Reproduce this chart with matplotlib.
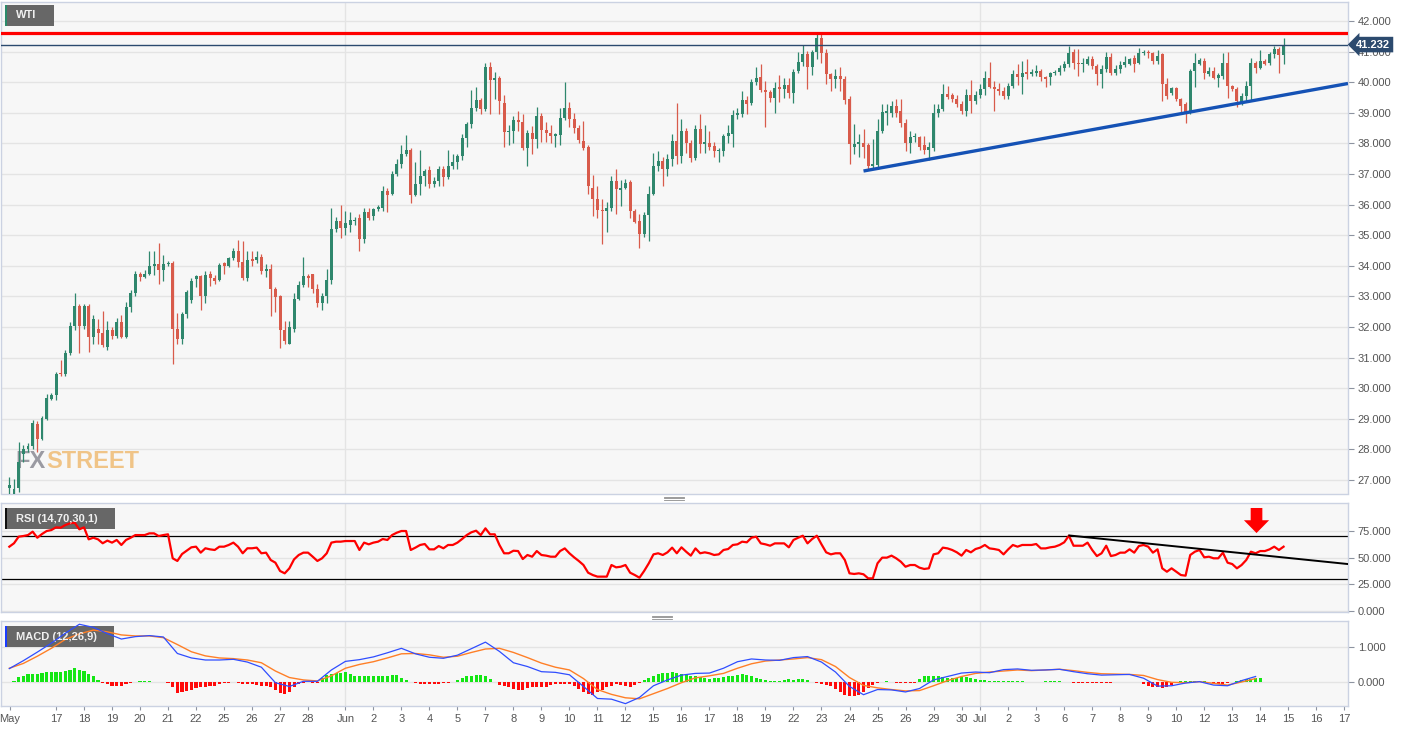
import numpy as np
import matplotlib
matplotlib.use('Agg')
import matplotlib.pyplot as plt
from matplotlib.patches import Rectangle
from matplotlib.lines import Line2D

plt.rcParams['font.family'] = ['Liberation Sans', 'DejaVu Sans']

W, H = 1413, 732

# ---------------- data (4-hour candles, WTI) ----------------
opens = [
    26.75, 26.5, 26.75, 27.85, 28.0, 28.1, 28.84, 28.35, 29.0, 29.66,
    29.79, 30.5, 30.45, 31.16, 32.02, 32.70, 32.02, 32.70, 31.66, 31.95,
    31.82, 31.36, 31.92, 31.72, 32.18, 31.69, 32.67, 33.1, 33.75, 33.65,
    33.75, 34.0, 34.05, 33.85, 34.05, 34.1, 31.95, 31.62, 32.44, 32.9,
    33.56, 33.66, 33.0, 33.72, 33.6, 33.55, 34.1, 34.0, 34.27, 34.47,
    34.14, 33.6, 34.24, 34.2, 34.3, 33.82, 33.91, 33.23, 33.0, 31.92,
    31.46, 31.95, 32.93, 33.36, 33.66, 33.72, 33.26, 32.77, 33.0, 33.55,
    35.19, 35.45, 35.25, 35.35, 35.45, 35.55, 34.87, 35.75, 35.62, 35.85,
    35.88, 36.44, 36.34, 37.0,
    37.32, 37.65, 37.78, 36.31, 36.66, 36.93, 37.12, 36.66, 36.76, 37.15,
    36.9, 37.25, 37.38, 37.58, 38.17, 38.63, 39.15, 39.41, 39.12, 40.49,
    40.07, 40.13, 39.32, 38.37, 38.4, 38.76, 38.7, 37.84, 38.33, 38.14,
    38.89, 38.43, 38.35, 38.25, 38.27, 38.82, 39.15, 38.8, 38.5, 38.07,
    37.87, 36.55, 36.2, 35.84, 35.8, 35.88, 36.76, 36.47, 36.53, 36.73,
    35.8, 35.45, 35.03, 35.65, 36.34, 37.25, 37.42, 37.16, 37.48, 38.07,
    37.6, 38.4, 38.0, 37.52, 38.46, 37.97, 38.03, 37.91, 37.74, 37.74,
    38.24, 38.3, 38.92, 38.96, 39.41, 39.32, 40.0, 40.17, 39.74, 39.68,
    39.5, 39.84, 39.77, 39.9, 39.64, 40.36, 40.66, 40.92, 40.49, 41.0,
    41.44, 40.95, 40.26, 40.1, 40.22, 40.1, 39.45,
    37.9, 37.97, 38.03, 37.94, 37.25, 37.3, 38.4, 39.0, 39.0, 39.22,
    39.05, 38.66, 38.0, 38.2, 38.2, 37.94, 37.8, 37.84, 38.99, 39.12,
    39.61, 39.58, 39.45, 39.28, 39.05, 39.58, 39.38, 39.58, 39.77, 40.13,
    39.84, 39.77, 39.72, 39.55, 39.87, 40.27, 40.17, 40.33, 40.27, 40.3,
    40.36, 40.17, 40.17, 40.3, 40.33, 40.46, 40.59, 41.0, 40.63, 40.6,
    40.6, 40.76, 40.53, 40.27, 40.43, 40.82, 40.3, 40.43, 40.56, 40.6,
    40.8, 40.63, 40.95, 41.0, 40.95, 40.7,
    40.92, 39.94, 39.64, 39.81, 39.45, 39.28, 39.0, 40.36, 40.6, 40.7,
    40.27, 40.36, 40.15, 40.2, 40.63, 39.87, 39.77, 39.35, 39.55, 39.87,
    40.63, 40.46, 40.7, 40.63, 40.92, 41.08, 40.9,
]
highs = [
    27.1, 27.05, 28.25, 28.15, 28.2, 28.97, 28.94, 29.1, 29.8, 29.85,
    30.52, 30.93, 31.26, 32.18, 33.1, 32.75, 32.75, 32.75, 32.41, 32.25,
    32.54, 32.2, 32.0, 32.3, 32.41, 32.83, 33.2, 33.82, 33.8, 33.85,
    34.5, 34.5, 34.75, 34.35, 34.15, 34.15, 32.45, 32.5, 33.2, 33.6,
    33.7, 33.7, 33.82, 33.82, 33.7, 34.1, 34.12, 34.3, 34.6, 34.86,
    34.8, 34.5, 34.5, 34.5, 34.4, 34.05, 34.05, 33.3, 33.06, 32.2,
    32.2, 33.1, 33.5, 34.3, 33.75, 33.75, 33.4, 33.1, 33.9, 35.88,
    35.6, 36.0, 35.8, 35.75, 35.6, 35.68, 35.9, 35.9, 35.9, 36.0,
    36.6, 36.55, 37.1, 37.5,
    37.95, 38.27, 37.85, 37.38, 37.78, 37.15, 37.25, 36.9, 37.25, 37.25,
    37.78, 37.65, 37.65, 38.3, 38.7, 39.74, 39.84, 39.5, 40.62, 40.65,
    40.35, 40.2, 39.6, 38.6, 38.9, 39.05, 38.95, 38.45, 38.56, 39.2,
    39.0, 38.7, 38.6, 38.35, 39.15, 40.0, 39.35, 39.0, 38.6, 38.73,
    37.94, 36.96, 36.6, 36.2, 36.08, 36.95, 37.15, 36.8, 36.85, 36.8,
    35.85, 35.68, 35.75, 36.6, 37.7, 37.75, 37.55, 37.65, 38.3, 39.32,
    38.8, 38.5, 38.1, 38.6, 38.96, 38.6, 38.4, 38.05, 37.85, 38.3,
    38.6, 39.1, 39.15, 39.7, 39.55, 40.1, 40.5, 40.6, 40.04, 39.75,
    40.0, 40.25, 40.15, 40.15, 40.45, 40.98, 41.21, 41.02, 41.05, 41.6,
    41.6, 41.1, 40.3, 40.45, 40.5, 40.2, 39.55,
    38.63, 38.3, 38.46, 38.0, 38.14, 38.8, 39.3, 39.3, 39.4, 39.45,
    39.45, 38.8, 38.4, 38.35, 38.25, 38.25, 38.05, 39.3, 39.3, 39.94,
    39.88, 39.65, 39.6, 39.4, 39.77, 40.07, 39.7, 39.94, 40.36, 40.66,
    40.04, 39.97, 39.84, 39.97, 40.4, 40.6, 40.7, 40.76, 40.45, 40.55,
    40.45, 40.2, 40.35, 40.4, 40.55, 40.7, 41.2, 41.1, 41.08, 40.8,
    40.85, 40.85, 40.6, 40.55, 40.98, 40.95, 40.55, 40.7, 40.85, 40.8,
    40.9, 41.12, 41.05, 41.05, 41.0, 41.05,
    40.95, 40.15, 39.85, 39.85, 39.5, 39.35, 40.45, 40.95, 40.8, 40.8,
    40.5, 40.5, 40.3, 40.95, 41.0, 39.9, 39.85, 39.65, 40.05, 40.8,
    40.7, 41.05, 40.75, 41.0, 41.2, 41.15, 41.44,
]
lows = [
    26.5, 26.4, 26.6, 27.6, 27.9, 28.0, 27.92, 28.3, 28.95, 29.6,
    29.63, 30.4, 30.4, 31.1, 31.9, 31.15, 31.95, 31.2, 31.43, 31.43,
    31.36, 31.26, 31.6, 31.65, 31.65, 31.65, 32.5, 33.0, 33.5, 33.6,
    33.7, 33.7, 33.4, 33.5, 34.0, 30.8, 31.45, 31.45, 32.3, 32.8,
    33.3, 32.57, 32.8, 33.35, 33.4, 33.5, 33.75, 33.95, 34.2, 33.95,
    33.55, 33.5, 34.0, 34.1, 33.75, 33.65, 32.35, 32.5, 31.3, 31.45,
    31.45, 31.85, 32.9, 33.3, 33.3, 33.1, 32.65, 32.55, 32.8, 33.4,
    35.1, 34.9, 35.0, 35.1, 35.35, 34.47, 34.75, 35.5, 35.5, 35.8,
    35.8, 35.75, 36.3, 36.95,
    37.2, 37.6, 36.04, 36.28, 36.31, 36.6, 36.55, 36.58, 36.6, 36.6,
    36.85, 37.15, 37.15, 37.45, 37.9, 38.5, 39.05, 38.95, 39.05, 38.96,
    39.45, 38.95, 37.9, 37.95, 38.0, 38.4, 37.8, 37.25, 37.65, 37.85,
    38.05, 38.05, 38.0, 37.9, 37.95, 38.76, 38.55, 38.35, 38.0, 37.8,
    36.34, 35.62, 35.55, 34.7, 35.1, 35.8, 35.68, 35.95, 36.5, 35.55,
    35.4, 34.57, 34.95, 34.8, 36.3, 37.1, 36.6, 36.95, 37.25, 37.32,
    37.35, 37.7, 37.4, 37.45, 37.68, 37.7, 37.8, 37.55, 37.4, 37.6,
    38.0, 37.9, 38.8, 38.85, 38.95, 39.25, 39.9, 39.68, 38.53, 39.35,
    39.0, 39.35, 39.5, 39.5, 39.32, 40.3, 40.53, 39.77, 40.25, 40.76,
    40.62, 39.93, 39.7, 39.8, 39.7, 39.3, 37.32,
    37.65, 37.55, 37.52, 37.15, 37.19, 37.15, 38.35, 38.6, 38.85, 38.85,
    38.55, 37.75, 37.7, 38.05, 37.8, 37.65, 37.45, 37.75, 38.85, 39.05,
    39.45, 39.35, 39.2, 38.95, 38.89, 38.99, 39.3, 39.5, 39.58, 39.8,
    39.05, 39.6, 39.45, 39.45, 39.8, 39.9, 39.61, 40.1, 40.2, 40.2,
    40.05, 39.85, 39.9, 40.25, 40.25, 40.38, 40.5, 40.45, 40.2, 40.35,
    40.55, 40.45, 39.9, 39.8, 40.35, 40.25, 40.25, 40.3, 40.5, 40.55,
    40.35, 40.59, 40.9, 40.8, 40.6, 40.6,
    39.38, 39.45, 39.6, 39.38, 38.96, 38.66, 38.95, 39.85, 40.55, 40.1,
    40.2, 40.1, 39.85, 40.1, 39.5, 39.7, 39.2, 39.25, 39.4, 39.4,
    40.3, 40.43, 40.55, 40.55, 40.8, 40.3, 40.6,
]
closes = [
    26.85, 26.7, 27.6, 28.0, 28.1, 28.85, 28.35, 29.04, 29.69, 29.79,
    30.48, 30.45, 31.16, 32.02, 32.70, 32.02, 32.70, 31.66, 32.25, 31.82,
    31.40, 31.92, 31.72, 32.18, 31.68, 32.64, 33.1, 33.72, 33.65, 33.75,
    34.0, 34.05, 33.85, 34.05, 34.1, 31.95, 31.62, 32.44, 33.13, 33.5,
    33.66, 33.0, 33.7, 33.6, 33.52, 34.02, 34.0, 34.27, 34.47, 34.14,
    33.6, 34.2, 34.17, 34.3, 33.82, 33.91, 33.26, 32.97, 31.92, 31.53,
    32.0, 32.93, 33.36, 33.66, 33.6, 33.26, 32.77, 33.0, 33.55, 35.19,
    35.45, 35.25, 35.4, 35.5, 35.5, 34.87, 35.75, 35.58, 35.85, 35.92,
    36.44, 36.33, 37.0, 37.32,
    37.65, 37.78, 36.31, 36.66, 36.93, 37.09, 36.66, 36.76, 37.15, 36.9,
    37.25, 37.38, 37.58, 38.17, 38.63, 39.15, 39.41, 39.12, 40.49, 40.07,
    40.13, 39.38, 38.37, 38.42, 38.76, 38.7, 37.84, 38.33, 38.14, 38.89,
    38.43, 38.35, 38.25, 38.3, 38.82, 39.15, 38.8, 38.5, 38.1, 37.84,
    36.6, 36.2, 35.84, 35.8, 35.9, 36.76, 36.5, 36.53, 36.7, 35.78,
    35.42, 35.03, 35.65, 36.34, 37.25, 37.42, 37.16, 37.48, 38.07, 37.58,
    38.4, 38.0, 37.52, 38.46, 37.97, 38.05, 37.87, 37.74, 37.8, 38.24,
    38.33, 38.92, 39.0, 39.41, 39.3, 40.0, 40.13, 39.74, 39.68, 39.5,
    39.81, 39.77, 39.9, 39.64, 40.33, 40.66, 40.92, 40.49, 40.98, 41.44,
    40.95, 40.26, 40.1, 40.22, 40.1, 39.41, 37.97,
    37.97, 38.05, 37.9, 37.25, 37.32, 38.4, 39.02, 39.05, 39.22, 39.0,
    38.66, 38.0, 38.2, 38.25, 37.9, 37.8, 37.87, 38.99, 39.12, 39.61,
    39.52, 39.45, 39.28, 39.05, 39.58, 39.38, 39.58, 39.77, 40.13, 39.84,
    39.77, 39.7, 39.55, 39.87, 40.27, 40.17, 40.3, 40.27, 40.33, 40.36,
    40.17, 40.1, 40.3, 40.33, 40.46, 40.59, 40.95, 40.63, 40.6, 40.62,
    40.76, 40.53, 40.27, 40.43, 40.82, 40.3, 40.43, 40.56, 40.66, 40.76,
    40.6, 40.95, 41.0, 40.95, 40.69, 40.85,
    39.94, 39.55, 39.8, 39.45, 39.22, 38.99, 40.36, 40.63, 40.72, 40.3,
    40.36, 40.15, 40.25, 40.63, 39.87, 39.77, 39.38, 39.55, 39.87, 40.63,
    40.46, 40.69, 40.6, 40.92, 41.08, 40.9, 41.23,
]

rsi = [
    60.3, 63.5, 69.7, 70.3, 71.2, 74.4, 68.7, 72.2, 75.0, 75.9,
    78.4, 78.1, 80.6, 82.2, 82.8, 76.6, 78.4, 67.2, 68.7, 67.2,
    63.5, 66.0, 64.1, 66.6, 61.9, 66.6, 68.7, 71.2, 71.2, 71.2,
    72.8, 72.8, 70.3, 71.2, 71.9, 49.4, 46.9, 53.4, 56.6, 59.7,
    60.3, 54.7, 58.8, 57.8, 57.2, 60.3, 60.3, 61.9, 64.1, 60.3,
    54.1, 58.8, 58.8, 59.4, 54.1, 54.7, 47.8, 45.3, 37.5, 35.3,
    40.0, 48.4, 52.5, 54.7, 54.7, 50.9, 46.9, 49.4, 54.1, 64.1,
    65.0, 65.0, 65.6, 65.6, 65.6, 57.2, 64.1, 62.5, 64.1, 65.0,
    67.5, 66.6, 71.2, 73.4, 75.0, 75.0, 57.2, 59.4, 61.9, 62.8,
    57.8, 57.8, 60.9, 58.8, 61.9, 61.9, 64.1, 67.5, 71.2, 73.8,
    75.3, 71.2, 77.5, 71.9, 71.9, 61.9, 54.1, 54.1, 56.5, 56.2,
    48.7, 52.5, 50.9, 56.2, 52.5, 51.9, 50.9, 50.9, 56.2, 58.7,
    54.1, 50.3, 46.9, 43.1, 35.9, 33.7, 32.2, 32.2, 32.2, 43.1,
    40.9, 41.5, 43.1, 35.9, 33.7, 31.2, 37.5, 44.7, 53.1, 54.1,
    52.5, 55.0, 59.4, 54.1, 59.7, 55.6, 51.9, 58.7, 54.1, 55.0,
    54.1, 52.5, 53.1, 57.2, 58.1, 61.9, 62.5, 65.0, 64.4, 68.7,
    69.7, 63.4, 62.5, 61.2, 63.4, 63.4, 63.4, 59.7, 66.6, 68.7,
    70.6, 63.4, 67.5, 70.6, 62.5, 55.0, 53.1, 54.1, 54.1, 47.8,
    35.3, 34.7, 35.3, 34.4, 30.6, 30.6, 44.7, 50.0, 50.0, 51.9,
    49.4, 46.2, 41.5, 43.1, 43.1, 40.6, 39.4, 40.0, 53.1, 54.1,
    59.4, 58.7, 57.2, 55.0, 51.9, 57.2, 55.0, 58.1, 59.4, 61.9,
    58.7, 58.1, 57.2, 53.1, 57.8, 61.9, 60.3, 61.9, 61.9, 61.9,
    62.8, 58.7, 58.7, 59.7, 60.3, 61.9, 64.4, 70.6, 61.2, 61.2,
    61.2, 64.1, 57.2, 51.5, 54.1, 61.2, 51.5, 52.5, 54.7, 54.7,
    57.8, 54.7, 60.9, 61.9, 60.3, 54.7, 57.8, 40.0, 36.8, 40.0,
    36.8, 33.7, 33.1, 52.5, 55.6, 57.2, 50.3, 50.9, 49.4, 49.4,
    54.7, 45.3, 44.0, 40.0, 43.1, 47.8, 55.6, 54.1, 56.2, 56.2,
    57.8, 60.3, 57.2, 60.3,
]

# MACD (12,26,9): lines read every 3rd candle, histogram per candle
macd_step = 3
macd_line = [
    0.38, 0.61, 0.86, 1.12, 1.41, 1.67, 1.58, 1.40, 1.24, 1.31,
    1.34, 1.30, 0.82, 0.69, 0.63, 0.63, 0.65, 0.57, 0.42, -0.03,
    -0.14, 0.01, 0.01, 0.34, 0.59, 0.64, 0.72, 0.84, 0.97, 0.81,
    0.71, 0.68, 0.77, 0.96, 1.15, 0.88, 0.55, 0.44, 0.29, 0.27,
    0.20, -0.14, -0.49, -0.51, -0.64, -0.46, -0.12, 0.05, 0.19, 0.24,
    0.25, 0.39, 0.58, 0.66, 0.63, 0.62, 0.70, 0.73, 0.57, 0.28,
    -0.14, -0.38, -0.23, -0.24, -0.30, -0.20, 0.05, 0.15, 0.25, 0.28,
    0.26, 0.35, 0.37, 0.33, 0.34, 0.36, 0.29, 0.23, 0.19, 0.20,
    0.21, 0.10, -0.13, -0.12, -0.04, 0.00, -0.10, -0.12, 0.03, 0.15,
]
signal_line = [
    0.39, 0.53, 0.74, 0.97, 1.23, 1.39, 1.50, 1.45, 1.36, 1.33,
    1.33, 1.28, 1.08, 0.87, 0.75, 0.69, 0.67, 0.63, 0.55, 0.31,
    0.12, 0.05, 0.02, 0.17, 0.39, 0.50, 0.58, 0.69, 0.81, 0.82,
    0.78, 0.71, 0.74, 0.85, 0.95, 0.97, 0.85, 0.70, 0.54, 0.42,
    0.34, 0.09, -0.23, -0.37, -0.47, -0.50, -0.35, -0.20, -0.03, 0.11,
    0.17, 0.24, 0.39, 0.52, 0.60, 0.63, 0.66, 0.70, 0.64, 0.44,
    0.12, -0.11, -0.18, -0.23, -0.27, -0.26, -0.12, 0.03, 0.15, 0.24,
    0.28, 0.31, 0.34, 0.32, 0.34, 0.36, 0.32, 0.27, 0.23, 0.22,
    0.21, 0.18, 0.06, -0.02, -0.03, 0.00, -0.05, -0.10, -0.01, 0.09,
]
macd_hist = [
    -0.02, 0.01, 0.13, 0.17, 0.21, 0.21, 0.22, 0.24, 0.27, 0.29,
    0.29, 0.29, 0.31, 0.33, 0.39, 0.34, 0.31, 0.21, 0.15, 0.05,
    -0.05, -0.08, -0.12, -0.13, -0.13, -0.08, -0.03, -0.01, 0.01, 0.01,
    0.01, 0.0, -0.01, -0.02, -0.03, -0.17, -0.34, -0.31, -0.27, -0.24,
    -0.19, -0.16, -0.15, -0.13, -0.12, -0.08, -0.05, -0.03, -0.02, -0.05,
    -0.07, -0.07, -0.07, -0.10, -0.12, -0.13, -0.17, -0.24, -0.34, -0.36,
    -0.29, -0.15, -0.08, -0.03, -0.02, -0.05, -0.04, 0.10, 0.19, 0.22,
    0.25, 0.26, 0.27, 0.23, 0.17, 0.16, 0.16, 0.15, 0.15, 0.15,
    0.16, 0.16, 0.18, 0.19, 0.12, 0.04, -0.01, -0.04, -0.06, -0.07,
    -0.07, -0.07, -0.06, -0.05, -0.04, -0.02, 0.05, 0.11, 0.15, 0.17,
    0.20, 0.19, 0.17, 0.08, -0.02, -0.10, -0.13, -0.15, -0.21, -0.24,
    -0.24, -0.19, -0.17, -0.17, -0.17, -0.15, -0.10, -0.07, -0.07, -0.08,
    -0.08, -0.12, -0.21, -0.29, -0.36, -0.39, -0.31, -0.24, -0.17, -0.12,
    -0.08, -0.10, -0.12, -0.15, -0.10, -0.03, 0.05, 0.12, 0.17, 0.22,
    0.24, 0.26, 0.27, 0.24, 0.21, 0.19, 0.16, 0.15, 0.13, 0.10,
    0.08, 0.10, 0.12, 0.13, 0.15, 0.16, 0.19, 0.21, 0.19, 0.15,
    0.10, 0.07, 0.05, 0.03, 0.02, 0.03, 0.05, 0.07, 0.05, 0.07,
    0.08, 0.05, -0.01, -0.03, -0.07, -0.10, -0.13, -0.21, -0.31, -0.39,
    -0.41, -0.41, -0.39, -0.29, -0.19, -0.10, -0.03, -0.01, 0.01, -0.02,
    -0.03, -0.04, -0.04, -0.05, -0.04, 0.08, 0.15, 0.16, 0.16, 0.15,
    0.13, 0.12, 0.12, 0.12, 0.13, 0.13, 0.10, 0.08, 0.05, 0.04,
    0.03, 0.03, 0.03, 0.03, 0.03, 0.02, 0.01, 0.005, 0.0, 0.0,
    0.0, 0.0, 0.005, 0.01, 0.01, 0.005, 0.0, -0.01, -0.03, -0.04,
    -0.04, -0.04, -0.04, -0.04, -0.04, -0.03, -0.03, -0.02, -0.01, -0.01,
    -0.01, -0.01, -0.01, -0.08, -0.12, -0.15, -0.17, -0.19, -0.17, -0.11,
    -0.04, 0.01, 0.01, 0.01, 0.01, 0.03, 0.01, -0.02, -0.05, -0.06,
    -0.06, -0.04, 0.0, 0.03, 0.06, 0.07, 0.09, 0.10, 0.12,
]

tick_pos = [0.14, 10, 16, 22, 28, 34, 40, 46, 52, 58, 64, 72, 78, 84, 90, 96,
            102, 108, 114, 120, 126, 132, 138, 144, 150, 156, 162, 168, 174,
            180, 186, 192, 198, 204, 208, 214, 220, 226, 232, 238, 244, 250,
            256, 262, 268, 274, 280, 286]
tick_labels = ['May', '17', '18', '19', '20', '21', '22', '25', '26', '27', '28',
               'Jun', '2', '3', '4', '5', '7', '8', '9', '10', '11', '12', '15',
               '16', '17', '18', '19', '22', '23', '24', '25', '26', '29', '30',
               'Jul', '2', '3', '6', '7', '8', '9', '10', '12', '13', '14', '15',
               '16', '17']
month_grid = [72, 208]

price_ticks = list(range(27, 43))
rsi_ticks = [0, 25, 50, 75]
macd_ticks = [0, 1]

resistance = 41.61
last_price = 41.232
support_x = [183.0, 286.8]
support_y = [37.10, 39.96]
rsi_trend_x = [227.1, 286.8]
rsi_trend_y = [70.8, 44.0]
rsi_arrow = (267.2, 96.6, 73.1)   # x, top, tip

# ---------------- figure ----------------
fig = plt.figure(figsize=(W / 100, H / 100), dpi=100, facecolor='white')


def axrect(x0, y0, x1, y1):
    return [x0 / W, 1 - y1 / H, (x1 - x0) / W, (y1 - y0) / H]


ax = fig.add_axes(axrect(1, 1.5, 1348, 493.5))
ax_rsi = fig.add_axes(axrect(1, 503.3, 1348, 611.7))
ax_macd = fig.add_axes(axrect(1, 621, 1348, 705.7))

XL = (-1.785, 286.8)
GRID = '#e4e4e4'
LABEL = '#555555'


def style(a, yt, ylim):
    a.set_facecolor('#f7f7f7')
    a.set_xlim(*XL)
    a.set_ylim(*ylim)
    for s in a.spines.values():
        s.set_color('#cbd2e2')
        s.set_linewidth(1)
    a.yaxis.tick_right()
    a.set_yticks(yt)
    a.set_yticklabels([f'{v:.3f}' for v in yt])
    a.tick_params(axis='y', length=4, width=0.8, color='#8d93a0', pad=3,
                  labelsize=8, labelcolor=LABEL)
    a.tick_params(axis='x', bottom=False, labelbottom=False)
    for v in yt:
        a.axhline(v, color=GRID, lw=1, zorder=0)
    for m in month_grid:
        a.axvline(m, color=GRID, lw=1, zorder=0)


style(ax, price_ticks, (26.56, 42.64))
style(ax_rsi, rsi_ticks, (-0.7, 101.0))
style(ax_macd, macd_ticks, (-0.70, 1.765))

# ---- candles ----
o = np.array(opens)
h = np.array(highs)
l = np.array(lows)
c = np.array(closes)
x = np.arange(len(c))
up = c >= o
col = np.where(up, '#2f876d', '#d85b4b')
body_lo = np.minimum(o, c)
body_hi = np.maximum(o, c)
ax.vlines(x, np.minimum(l, body_lo), np.maximum(h, body_hi), colors=col,
          lw=0.9, zorder=3)
ax.bar(x, np.maximum(body_hi - body_lo, 0.03), bottom=body_lo, width=0.64,
       color=col, linewidth=0, zorder=4)

ax.axhline(resistance, color='#ff0000', lw=2.3, zorder=5)
ax.axhline(last_price, color='#2b4a6f', lw=1.0, zorder=5)
ax.plot(support_x, support_y, color='#1552b5', lw=2.4, zorder=5,
        solid_capstyle='butt')

ax.annotate(f'{last_price:.3f}', xy=(1.0, last_price),
            xycoords=('axes fraction', 'data'), xytext=(6, 0),
            textcoords='offset points', ha='left', va='center',
            color='white', fontsize=8, fontweight='bold',
            bbox=dict(boxstyle='larrow,pad=0.25', fc='#2c4a6e', ec='none'),
            annotation_clip=False, zorder=10)

# ---- RSI ----
ax_rsi.axhline(70, color='black', lw=0.9, zorder=2)
ax_rsi.axhline(30, color='black', lw=0.9, zorder=2)
ax_rsi.plot(np.arange(len(rsi)), rsi, color='#ff0000', lw=1.6, zorder=4)
ax_rsi.plot(rsi_trend_x, rsi_trend_y, color='black', lw=1.4, zorder=5)
ax_rsi.arrow(rsi_arrow[0], rsi_arrow[1], 0, rsi_arrow[2] - rsi_arrow[1],
             width=2.5, head_width=5.4, head_length=12.0,
             length_includes_head=True, color='#ff0000', lw=0, zorder=6)

# ---- MACD ----
hist = np.array(macd_hist)
hx = np.arange(len(hist))
ax_macd.bar(hx, hist, width=0.66,
            color=np.where(hist >= 0, '#14e614', '#ff0a0a'),
            linewidth=0, zorder=3)
mx = np.arange(0, macd_step * len(macd_line), macd_step)
ax_macd.plot(mx, signal_line, color='#ff7f27', lw=1.0, zorder=4)
ax_macd.plot(mx, macd_line, color='#2f4dff', lw=0.9, zorder=5)

ax_macd.set_xticks(tick_pos)
ax_macd.set_xticklabels(tick_labels)
ax_macd.tick_params(axis='x', bottom=True, labelbottom=True, length=3,
                    width=0.8, color='#8d93a0', pad=3, labelsize=8,
                    labelcolor=LABEL)

# ---- panel tags ----


def tag(a, x0, y0, x1, y1, accent, text, z_box=3):
    a.add_patch(Rectangle((x0 / W, 1 - y1 / H), (x1 - x0) / W, (y1 - y0) / H,
                          transform=fig.transFigure, facecolor='#5c5c5c',
                          edgecolor='none', alpha=0.93, zorder=z_box))
    a.add_patch(Rectangle((x0 / W, 1 - y1 / H), 2.2 / W, (y1 - y0) / H,
                          transform=fig.transFigure, facecolor=accent,
                          edgecolor='none', zorder=z_box + 0.1))
    a.text((x0 + 11) / W, 1 - (y0 + y1) / 2 / H, text, transform=fig.transFigure,
           color='#f0f0f0', fontsize=8, fontweight='bold', ha='left',
           va='center', zorder=z_box + 1)


tag(ax, 5, 5, 54, 26, '#2a8a6a', 'WTI', z_box=8)
tag(ax_rsi, 5, 508, 115, 529, '#111111', 'RSI (14,70,30,1)', z_box=3)
tag(ax_macd, 5, 626, 114, 647, '#1a3cff', 'MACD (12,26,9)', z_box=3)

# watermark
fx = ax.text(15 / W, 1 - 462 / H, 'FX', transform=fig.transFigure,
             fontsize=17, fontweight='bold', color='#9a9aa2', ha='left',
             va='center', zorder=2)
ax.annotate('STREET', xy=(1.0, 0.5), xycoords=fx, xytext=(0.5, 0),
            textcoords='offset points', fontsize=17, fontweight='bold',
            color='#f0c487', ha='left', va='center', zorder=2)

# splitter handles
for (hx0, hx1, hy) in [(664, 684, 498.0), (652, 672, 617.0)]:
    for dy in (-1.5, 0, 1.5):
        fig.add_artist(Line2D([hx0 / W, hx1 / W], [1 - (hy + dy) / H] * 2,
                              color='#8c8c8c', lw=0.6))

fig.savefig('out.png', dpi=100, facecolor='white')
